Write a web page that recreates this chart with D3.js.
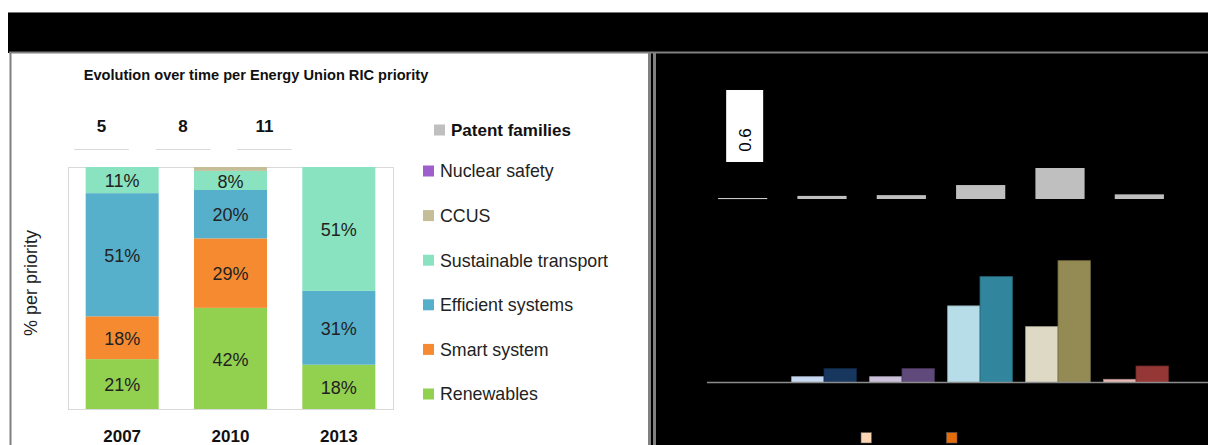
<!DOCTYPE html>
<html>
<head>
<meta charset="utf-8">
<script src="https://cdn.jsdelivr.net/npm/d3@7"></script>
<style>
  body { margin: 0; background: #fff; }
  svg { display: block; font-family: "Liberation Sans", Arial, sans-serif; }
</style>
</head>
<body>
<svg id="chart" width="1208" height="445"></svg>
<script>
// left chart data
var years = ["2007", "2010", "2013"];
var patentFamilies = [5, 8, 11];
var priorities = ["Renewables", "Smart system", "Efficient systems", "Sustainable transport", "CCUS", "Nuclear safety"];
var renewables = [0.206, 0.418, 0.183];
var smartSystem = [0.177, 0.287, 0];
var efficientSystems = [0.509, 0.200, 0.305];
var sustainableTransport = [0.108, 0.079, 0.512];
var ccus = [0, 0.016, 0];
var nuclearSafety = [0, 0, 0];
var priorityColors = ["#92d050", "#f58a31", "#57b0cb", "#8ae3c0", "#c4bd97", "#9e5fcc"];

// right chart data (labels are black on black in the original)
var rightGroups = ["g1", "g2", "g3", "g4", "g5", "g6"];
var rightPatents = [0.6, 2, 2.5, 9, 20, 3];
var rightLight = [0, 1.1, 1.1, 14.4, 10.5, 0.6];
var rightDark = [0, 2.6, 2.6, 19.9, 22.9, 3.1];
var lightColors = ["#fcd5b5", "#c6d9f1", "#ccc1da", "#b7dee8", "#ddd9c4", "#e6b9b8"];
var darkColors = ["#e46c0a", "#17375e", "#604a7b", "#31859c", "#948a54", "#953735"];

var svg = d3.select("#chart");

// frame
svg.append("rect").attr("x", 8).attr("y", 12).attr("width", 1200).attr("height", 41).attr("fill", "#000");
svg.append("line").attr("x1", 8).attr("x2", 1208).attr("y1", 12.5).attr("y2", 12.5).attr("stroke", "#777").attr("stroke-width", 1);
svg.append("rect").attr("x", 651).attr("y", 52).attr("width", 557).attr("height", 393).attr("fill", "#000");
svg.append("line").attr("x1", 9).attr("x2", 1208).attr("y1", 52.5).attr("y2", 52.5).attr("stroke", "#808080").attr("stroke-width", 2);
svg.append("line").attr("x1", 10.5).attr("x2", 10.5).attr("y1", 52).attr("y2", 445).attr("stroke", "#808080").attr("stroke-width", 2);
svg.append("line").attr("x1", 649.5).attr("x2", 649.5).attr("y1", 52).attr("y2", 445).attr("stroke", "#808080").attr("stroke-width", 3);
svg.append("line").attr("x1", 654.5).attr("x2", 654.5).attr("y1", 52).attr("y2", 445).attr("stroke", "#808080").attr("stroke-width", 3);

// ---------- left chart ----------
svg.append("text")
  .attr("x", 256).attr("y", 80)
  .attr("text-anchor", "middle")
  .attr("font-weight", "bold").attr("font-size", 14.6)
  .attr("fill", "#111")
  .text("Evolution over time per Energy Union RIC priority");

var plot = {left: 68, right: 393, top: 167, bottom: 409};

var x = d3.scaleBand().domain(years).range([plot.left, plot.right]).paddingInner(0.326).paddingOuter(0.163);
var y = d3.scaleLinear().domain([0, 1]).range([plot.bottom, plot.top]);

svg.append("rect")
  .attr("x", plot.left + 0.5).attr("y", plot.top + 0.5)
  .attr("width", plot.right - plot.left).attr("height", plot.bottom - plot.top)
  .attr("fill", "none").attr("stroke", "#d9d9d9");

var table = years.map(function(yr, i) {
  return {year: yr, "Renewables": renewables[i], "Smart system": smartSystem[i],
    "Efficient systems": efficientSystems[i], "Sustainable transport": sustainableTransport[i],
    "CCUS": ccus[i], "Nuclear safety": nuclearSafety[i]};
});
var stack = d3.stack().keys(priorities)(table);
var color = d3.scaleOrdinal().domain(priorities).range(priorityColors);

var layers = svg.selectAll(".layer").data(stack).enter().append("g")
  .attr("fill", function(d) { return color(d.key); });

layers.selectAll("rect").data(function(d) { return d; }).enter().append("rect")
  .attr("x", function(d) { return x(d.data.year); })
  .attr("width", x.bandwidth())
  .attr("y", function(d) { return y(d[1]); })
  .attr("height", function(d) { return y(d[0]) - y(d[1]); });

layers.selectAll("text").data(function(d) { return d.filter(function(s) { return s[1] - s[0] > 0.03; }); })
  .enter().append("text")
  .attr("x", function(d) { return x(d.data.year) + x.bandwidth() / 2; })
  .attr("y", function(d) { return (y(d[0]) + y(d[1])) / 2; })
  .attr("dy", "0.4em")
  .attr("text-anchor", "middle")
  .attr("font-size", 18)
  .attr("fill", "#222")
  .text(function(d) { return d3.format(".0%")(d[1] - d[0]); });

svg.append("g")
  .attr("transform", "translate(0," + (plot.bottom + 33) + ")")
  .call(d3.axisBottom(x).tickSize(0).tickPadding(0))
  .call(function(g) { g.select(".domain").remove(); })
  .selectAll("text")
  .attr("dy", 0)
  .attr("font-size", 17).attr("font-weight", "bold").attr("fill", "#111")
  .attr("font-family", "Liberation Sans, Arial, sans-serif");

// patent family counts above the bars
var xTop = d3.scaleBand().domain(years).range([58, 308]).paddingInner(0.33).paddingOuter(0.2);
var tops = svg.append("g");
tops.selectAll("line").data(years).enter().append("line")
  .attr("x1", function(d) { return xTop(d); })
  .attr("x2", function(d) { return xTop(d) + xTop.bandwidth(); })
  .attr("y1", 149.5).attr("y2", 149.5)
  .attr("stroke", "#d9d9d9");
tops.selectAll("text").data(years).enter().append("text")
  .attr("x", function(d) { return xTop(d) + xTop.bandwidth() / 2; })
  .attr("y", 132)
  .attr("text-anchor", "middle")
  .attr("font-size", 17).attr("font-weight", "bold").attr("fill", "#111")
  .text(function(d, i) { return patentFamilies[i]; });

svg.append("text")
  .attr("transform", "translate(37,283) rotate(-90)")
  .attr("text-anchor", "middle")
  .attr("font-size", 18).attr("fill", "#222")
  .text("% per priority");

// legend
var legend = svg.append("g");
legend.append("rect").attr("x", 434).attr("y", 124.5).attr("width", 11).attr("height", 11).attr("fill", "#bfbfbf");
legend.append("text").attr("x", 451).attr("y", 136).attr("font-size", 17).attr("font-weight", "bold").attr("fill", "#111").text("Patent families");

var legendKeys = priorities.slice().reverse();
var ly = d3.scalePoint().domain(legendKeys).range([171, 394]);
var items = legend.selectAll(".item").data(legendKeys).enter().append("g")
  .attr("transform", function(d) { return "translate(423," + ly(d) + ")"; });
items.append("rect").attr("x", 0).attr("y", -5.5).attr("width", 11).attr("height", 11)
  .attr("fill", function(d) { return color(d); });
items.append("text").attr("x", 17).attr("y", 0).attr("dy", "0.36em")
  .attr("font-size", 17.8).attr("fill", "#222")
  .text(function(d) { return d; });

// ---------- right chart ----------
var xr = d3.scaleBand().domain(rightGroups).range([703, 1179]).paddingInner(0.38).paddingOuter(0.19);
var yr = d3.scaleLinear().domain([0, 20]).range([199, 168]);

svg.append("g").selectAll("rect").data(rightGroups).enter().append("rect")
  .attr("x", function(d) { return xr(d); })
  .attr("width", xr.bandwidth())
  .attr("y", function(d, i) { return yr(rightPatents[i]); })
  .attr("height", function(d, i) { return Math.max(1, yr(0) - yr(rightPatents[i])); })
  .attr("fill", function(d, i) { return i === 0 ? "#d9d9d9" : "#bfbfbf"; });

// data label of the first bar
var lx = xr(rightGroups[0]) + xr.bandwidth() / 2 + 2;
svg.append("rect").attr("x", lx - 18.5).attr("y", 90).attr("width", 37).attr("height", 72).attr("fill", "#fff");
svg.append("text")
  .attr("transform", "translate(" + (lx + 6) + ",140) rotate(-90)")
  .attr("text-anchor", "middle")
  .attr("font-size", 17).attr("fill", "#000")
  .text(d3.format(".1f")(rightPatents[0]));

var xg = d3.scaleBand().domain(rightGroups).range([707, 1175]).paddingInner(0.17).paddingOuter(0.085);
var xs = d3.scaleBand().domain(["light", "dark"]).range([0, xg.bandwidth()]);
var yg = d3.scaleLinear().domain([0, 25]).range([382.5, 249.5]);

var groups = svg.append("g").selectAll("g").data(rightGroups).enter().append("g")
  .attr("transform", function(d) { return "translate(" + xg(d) + ",0)"; });
groups.each(function(d, i) {
  var g = d3.select(this);
  [["light", rightLight[i], lightColors[i]], ["dark", rightDark[i], darkColors[i]]].forEach(function(s) {
    if (s[1] <= 0) return;
    g.append("rect")
      .attr("x", xs(s[0])).attr("width", xs.bandwidth())
      .attr("y", yg(s[1])).attr("height", yg(0) - yg(s[1]))
      .attr("fill", s[2])
      .attr("stroke", d3.color(s[2]).darker(0.8))
      .attr("stroke-width", 0.8);
  });
});

svg.append("line").attr("x1", 707).attr("x2", 1208).attr("y1", 382.5).attr("y2", 382.5)
  .attr("stroke", "#8c8c8c").attr("stroke-width", 1.5);

// bottom legend (text is black on black)
var rlegend = svg.append("g").selectAll("g").data(["light", "dark"]).enter().append("g")
  .attr("transform", function(d, i) { return "translate(" + (861 + i * 85.5) + ",432.5)"; });
rlegend.append("rect").attr("width", 10.5).attr("height", 10.5)
  .attr("fill", function(d, i) { return i === 0 ? lightColors[0] : darkColors[0]; })
  .attr("stroke", "#595959").attr("stroke-width", 0.6);
</script>
</body>
</html>
